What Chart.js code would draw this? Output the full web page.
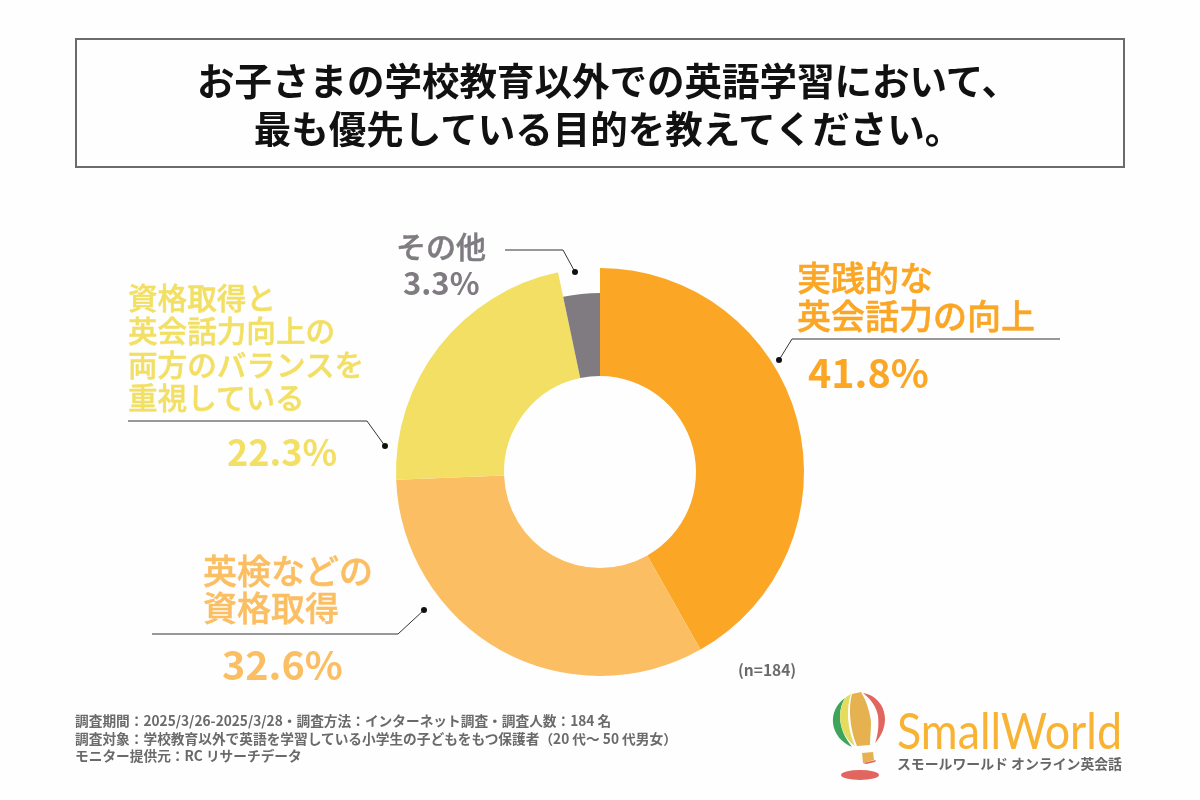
<!DOCTYPE html>
<html lang="ja">
<head>
<meta charset="utf-8">
<title>英語学習の目的</title>
<script src="https://cdn.jsdelivr.net/npm/chart.js@4"></script>
<style>
  html, body { margin: 0; padding: 0; background: #fefefe; }
  body { width: 1200px; height: 800px; position: relative; overflow: hidden; font-family: "Noto Sans CJK JP", "Noto Sans", sans-serif; }
  #grafico { position: absolute; left: 0; top: 0; }
  #caixa { position: absolute; left: 75px; top: 38px; width: 1046px; height: 126px; border: 2px solid #6b6b6b; }
  #titulo { position: absolute; left: 8px; width: 1200px; top: 55px; text-align: center; font-size: 37.5px; font-weight: 700; line-height: 48px; color: #111; }
  .txt { position: absolute; white-space: pre; }
  #rodape { left: 75px; top: 712px; font-size: 13.7px; font-weight: 700; line-height: 17.5px; color: #6a6a6a; }
  #n { left: 738px; top: 658px; font-size: 15.5px; font-weight: 700; color: #6a6a6a; }
  #logo { position: absolute; left: 0; top: 0; }
</style>
</head>
<body>
<canvas id="grafico" width="1200" height="800"></canvas>
<div id="caixa"></div>
<div id="titulo">お子さまの学校教育以外での英語学習において、<br>最も優先している目的を教えてください。</div>
<div id="rotulos"></div>
<div id="n" class="txt">(n=184)</div>
<div id="rodape" class="txt">調査期間：2025/3/26-2025/3/28・調査方法：インターネット調査・調査人数：184 名
調査対象：学校教育以外で英語を学習している小学生の子どもをもつ保護者（20 代～ 50 代男女）
モニター提供元：RC リサーチデータ</div>
<svg id="logo" width="1200" height="800">
  <ellipse cx="860" cy="775" rx="19" ry="5" fill="#e0665f"/>
  <path d="M862 753 L873 752 L874 760 L863 763 Z" fill="#e6b14f"/>
  <path d="M863 763 L876 760 L875 762 L866 764 Z" fill="#e0665f"/>
  <path d="M845 698 C836 704 832 714 833 723 C834 734 842 743 852 747 C845 738 840 728 840 716 C840 709 842 703 845 698 Z" fill="#3fa45b"/>
  <path d="M846 697 L851 694 C846 708 847 728 855 746 C846 740 840 728 840 716 C840 709 842 703 846 697 Z" fill="#e5dc5f"/>
  <path d="M852 694 L861 692 C866 700 870 712 871 722 C871 730 870 738 870 745 L857 746 C850 730 848 708 852 694 Z" fill="#e6b14f"/>
  <path d="M863 693 C876 695 885 706 885 719 C885 729 880 738 875 743 C878 735 879 725 878 716 C877 708 871 699 863 693 Z" fill="#e0665f"/>
  <text x="897" y="749" font-family="Lato" font-weight="400" font-size="50" fill="#f8b334" textLength="225" lengthAdjust="spacingAndGlyphs">SmallWorld</text>
  <text x="897" y="769" font-family="Noto Sans CJK JP" font-weight="700" font-size="14" fill="#666" textLength="225" lengthAdjust="spacingAndGlyphs">スモールワールド オンライン英会話</text>
</svg>
<script>
const categorias = ["実践的な\n英会話力の向上", "英検などの\n資格取得", "資格取得と\n英会話力向上の\n両方のバランスを\n重視している", "その他"];
const valores = [41.8, 32.6, 22.3, 3.3];
const cores = ["#fba624", "#fbbe62", "#f2df64", "#7f7b80"];

// onde fica cada rótulo: [x, y, tamanho, altura da linha] do nome, e [x, y, tamanho] do percentual
const posNome = [[797, 258, 34, 38], [203, 551, 34, 37], [128, 280, 29.6, 33.4], [396, 225, 30, 40]];
const posPct = [[808, 346, 39.5], [222, 638, 39.5], [227, 425, 36], [403, 257, 31]];

const caixaRotulos = document.getElementById("rotulos");
categorias.forEach((nome, i) => {
  const cor = cores[i];
  const a = document.createElement("div");
  a.className = "txt";
  a.textContent = nome;
  a.style.cssText = `left:${posNome[i][0]}px;top:${posNome[i][1]}px;font-size:${posNome[i][2]}px;line-height:${posNome[i][3]}px;font-weight:500;-webkit-text-stroke:0.5px ${cor};color:${cor}`;
  caixaRotulos.appendChild(a);
  const b = document.createElement("div");
  b.className = "txt";
  b.textContent = valores[i].toFixed(1) + "%";
  b.style.cssText = `left:${posPct[i][0]}px;top:${posPct[i][1]}px;font-size:${posPct[i][2]}px;font-weight:700;line-height:50px;color:${cor}`;
  caixaRotulos.appendChild(b);
});

// linhas de chamada: a última coordenada é a bolinha
const chamadas = [
  [[1060, 339], [792, 339], [779, 360]],
  [[152, 634], [398, 634], [424, 610]],
  [[128, 421], [367, 421], [385, 446]],
  [[505, 250], [563, 250], [575, 272]]
];

const linhasPlugin = {
  id: "linhas",
  afterDatasetsUpdate(chart) {
    // a fatia "Outros" é mais curta que as demais
    chart.getDatasetMeta(0).data[3].outerRadius = 179;
  },
  afterDraw(chart) {
    const c = chart.ctx;
    c.save();
    c.strokeStyle = "#333";
    c.fillStyle = "#111";
    c.lineWidth = 1;
    chamadas.forEach(l => {
      c.beginPath();
      l.forEach((p, i) => i ? c.lineTo(p[0], p[1]) : c.moveTo(p[0], p[1]));
      c.stroke();
      const f = l[l.length - 1];
      c.beginPath();
      c.arc(f[0], f[1], 3, 0, Math.PI * 2);
      c.fill();
    });
    c.restore();
  }
};

new Chart(document.getElementById("grafico"), {
  type: "doughnut",
  data: {
    labels: categorias,
    datasets: [{ data: valores, backgroundColor: cores, borderWidth: 0 }]
  },
  options: {
    responsive: false,
    animation: false,
    cutout: 96,
    radius: 204,
    layout: { padding: { top: 268, bottom: 124, left: 396, right: 396 } },
    plugins: { legend: { display: false }, tooltip: { enabled: false } }
  },
  plugins: [linhasPlugin]
});
</script>
</body>
</html>
